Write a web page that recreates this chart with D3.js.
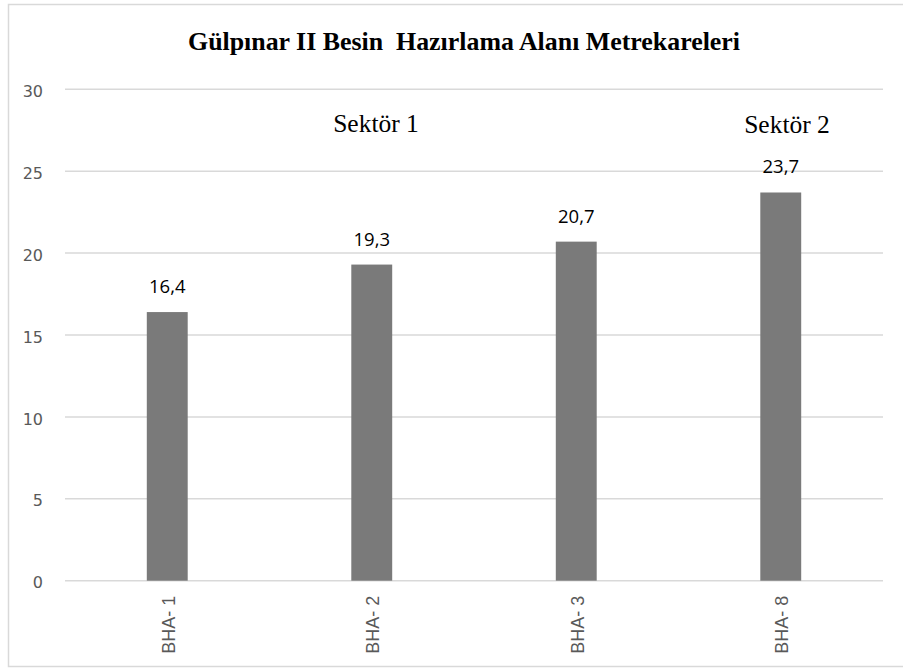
<!DOCTYPE html>
<html>
<head>
<meta charset="utf-8">
<script src="https://cdn.jsdelivr.net/npm/d3@7"></script>
<style>
  html, body { margin: 0; padding: 0; background: #fff; }
  svg { display: block; }
</style>
</head>
<body>
<svg id="chart" width="903" height="669"></svg>
<script>
// Kitchen (BHA) areas in square metres
const categories = ["BHA- 1", "BHA- 2", "BHA- 3", "BHA- 8"];
const values = [16.4, 19.3, 20.7, 23.7];
const valueLabels = ["16,4", "19,3", "20,7", "23,7"];
const yTicks = [0, 5, 10, 15, 20, 25, 30];
const sectorLabels = ["Sektör 1", "Sektör 2"];
const titleText = "Gülpınar II Besin  Hazırlama Alanı Metrekareleri";

const W = 903, H = 669;
const margin = { left: 65, right: 20, top: 89.3, bottom: 88.3 };
const SERIF = "'Liberation Serif', 'Times New Roman', serif";
const SANS = "'Open Sans', 'DejaVu Sans', sans-serif";

const svg = d3.select("#chart");

// chart frame
svg.append("rect")
  .attr("x", 8.5).attr("y", 4.5)
  .attr("width", W + 10).attr("height", 662)
  .attr("fill", "#fff")
  .attr("stroke", "#d9d9d9").attr("stroke-width", 1.5);

const x = d3.scaleBand()
  .domain(categories)
  .range([margin.left, W - margin.right])
  .paddingInner(0.8).paddingOuter(0.4);

const y = d3.scaleLinear()
  .domain([0, 30])
  .range([H - margin.bottom, margin.top]);

// horizontal gridlines
svg.append("g")
  .selectAll("line")
  .data(yTicks)
  .join("line")
  .attr("x1", margin.left).attr("x2", W - margin.right)
  .attr("y1", d => y(d)).attr("y2", d => y(d))
  .attr("stroke", "#d9d9d9").attr("stroke-width", 1.5);

// y axis labels
const yAxis = d3.axisLeft(y).tickValues(yTicks).tickSize(0).tickPadding(0);
const yg = svg.append("g")
  .attr("transform", `translate(${43},2)`)
  .call(yAxis);
yg.select(".domain").remove();
yg.selectAll("text")
  .style("font-family", "'DejaVu Sans', Verdana, sans-serif")
  .style("font-size", "16px")
  .style("fill", "#595959");

// bars
svg.append("g")
  .selectAll("rect")
  .data(values)
  .join("rect")
  .attr("x", (d, i) => x(categories[i]))
  .attr("width", x.bandwidth())
  .attr("y", d => y(d))
  .attr("height", d => y(0) - y(d))
  .attr("fill", "#7a7a7a");

// value labels
svg.append("g")
  .selectAll("text")
  .data(values)
  .join("text")
  .attr("x", (d, i) => x(categories[i]) + x.bandwidth() / 2)
  .attr("y", d => y(d) - 19)
  .attr("text-anchor", "middle")
  .style("font-family", SANS)
  .style("font-size", "18.5px")
  .style("fill", "#000")
  .text((d, i) => valueLabels[i]);

// x axis: rotated category labels
const xAxis = d3.axisBottom(x).tickSize(0).tickPadding(0);
const xg = svg.append("g")
  .attr("transform", `translate(1,${y(0)})`)
  .call(xAxis);
xg.select(".domain").remove();
xg.selectAll("text")
  .style("font-family", "'Liberation Sans', Arial, sans-serif")
  .style("font-size", "18px")
  .style("fill", "#595959")
  .attr("text-anchor", "end")
  .attr("y", 0)
  .attr("dy", "0.36em")
  .attr("transform", "translate(0,15) rotate(-90)");

// sector annotations
svg.append("text")
  .attr("x", 376).attr("y", 132)
  .attr("text-anchor", "middle")
  .style("font-family", SERIF)
  .style("font-size", "25.5px")
  .style("fill", "#000")
  .text(sectorLabels[0]);
svg.append("text")
  .attr("x", 787).attr("y", 133)
  .attr("text-anchor", "middle")
  .style("font-family", SERIF)
  .style("font-size", "25.5px")
  .style("fill", "#000")
  .text(sectorLabels[1]);

// title
svg.append("text")
  .attr("x", 188).attr("y", 50)
  .attr("textLength", 552)
  .attr("lengthAdjust", "spacingAndGlyphs")
  .style("font-family", SERIF)
  .style("font-weight", "bold")
  .style("font-size", "26px")
  .style("fill", "#000")
  .style("white-space", "pre")
  .text(titleText);
</script>
</body>
</html>
